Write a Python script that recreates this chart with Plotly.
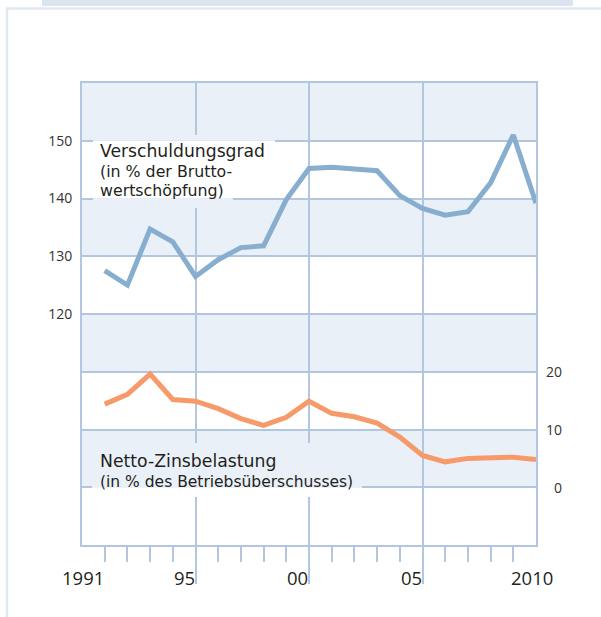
import math
import plotly.graph_objects as go

# ---------------- data ----------------
years = list(range(1991, 2011))
verschuldungsgrad = [127.5, 125.0, 134.7, 132.5, 126.5, 129.4, 131.5, 131.8, 139.8, 145.2,
                     145.4, 145.1, 144.8, 140.5, 138.3, 137.1, 137.7, 142.7, 151.0, 139.2]
zinsbelastung = [14.4, 16.1, 19.6, 15.2, 14.9, 13.6, 11.9, 10.7, 12.1, 14.9,
                 12.8, 12.2, 11.1, 8.7, 5.5, 4.4, 5.0, 5.2, 5.2, 4.8]
left_tick_vals = [80, 90, 100, 110, 120, 130, 140, 150, 160]
left_tick_text = ["", "", "", "", "120", "130", "140", "150", ""]
right_tick_vals = [0, 10, 20]
x_label_years = [1991, 1995, 2000, 2005, 2010]
x_label_text = ["1991", "95", "00", "05", "2010"]
x_major_years = [1995, 2000, 2005]
x_minor_years = list(range(1991, 2010))

# ---------------- style ----------------
W, H = 601, 617
ML, MR, MT, MB = 82, 65, 83, 72
PW, PH = W - ML - MR, H - MT - MB
XR = [1990, 2010]
YL = [80, 160]
YR = [-10, 70]
GRID = "#b3c6df"
SHADE = "#eaf0f8"
BLUE = "#88aecf"
ORANGE = "#f79a6a"
TXT = "#231f20"
FONT = "Open Sans"
LABEL_FONT = "DejaVu Sans"


def px_x(px):
    return XR[0] + (px - ML) / PW * (XR[1] - XR[0])


def px_y(py):
    return YL[1] - (py - MT) / PH * (YL[1] - YL[0])


def pp_x(px):
    return (px - ML) / PW


def pp_y(py):
    return (H - MB - py) / PH


def band_color(lo):
    return SHADE if (int(round(lo)) // 10) % 2 == 1 else "white"


shapes = []
# alternating bands
for lo in range(YL[0], YL[1], 10):
    if band_color(lo) == SHADE:
        shapes.append(dict(type="rect", xref="x domain", yref="y", x0=0, x1=1, y0=lo, y1=lo + 10,
                           fillcolor=SHADE, line=dict(width=0), layer="below"))

# masks behind the text labels (hide grid lines, keep band colours)
masks = [(93, 275, 135, 161), (93, 233, 161, 208), (92, 362, 443, 497)]
for (x0p, x1p, y0p, y1p) in masks:
    ya, yb = px_y(y1p), px_y(y0p)
    cuts = [ya] + [v for v in range(YL[0], YL[1] + 1, 10) if ya < v < yb] + [yb]
    for a, b in zip(cuts[:-1], cuts[1:]):
        lo = math.floor((a + b) / 2 / 10) * 10
        shapes.append(dict(type="rect", xref="x", yref="y", x0=px_x(x0p), x1=px_x(x1p), y0=a, y1=b,
                           fillcolor=band_color(lo), line=dict(width=0), layer="between"))

# page decoration: top band and frame
shapes.append(dict(type="rect", xref="paper", yref="paper", x0=pp_x(42), x1=pp_x(573), y0=pp_y(0), y1=pp_y(6),
                   fillcolor="#dce4ef", line=dict(width=0), layer="below"))
shapes.append(dict(type="line", xref="paper", yref="paper", x0=pp_x(6), x1=pp_x(601), y0=pp_y(8.5), y1=pp_y(8.5),
                   line=dict(color="#e2e9f3", width=2.5), layer="below"))
shapes.append(dict(type="line", xref="paper", yref="paper", x0=pp_x(7), x1=pp_x(7), y0=pp_y(8), y1=pp_y(617),
                   line=dict(color="#e2e9f3", width=2.5), layer="below"))

fig = go.Figure()
fig.add_trace(go.Scatter(x=years, y=verschuldungsgrad, mode="lines", yaxis="y",
                         line=dict(color=BLUE, width=5), cliponaxis=False, hoverinfo="skip"))
fig.add_trace(go.Scatter(x=years, y=zinsbelastung, mode="lines", yaxis="y2",
                         line=dict(color=ORANGE, width=5), cliponaxis=False, hoverinfo="skip"))

annotations = []
for yv, txt in zip(x_label_years, x_label_text):
    anchor = "center" if yv == 2010 else "right"
    shift = -4 if yv == 2010 else 1
    annotations.append(dict(x=yv, y=pp_y(577), xref="x", yref="paper", text=txt, showarrow=False,
                            xanchor=anchor, yanchor="middle", xshift=shift,
                            font=dict(size=18.5, color=TXT, family=FONT)))
for v in right_tick_vals:
    annotations.append(dict(x=pp_x(564), y=v, xref="paper", yref="y2", text=str(v), showarrow=False,
                            xanchor="right", yanchor="middle", font=dict(size=14, color="#333333", family=FONT)))

label_blocks = [
    ('<span style="font-size:17.2px">Verschuldungsgrad</span><br>'
     '<span style="font-size:15.8px">(in % der Brutto-</span><br>'
     '<span style="font-size:15.8px">wertschöpfung)</span>', 170.5, 15.1),
    ('<span style="font-size:17.3px">Netto-Zinsbelastung</span><br>'
     '<span style="font-size:15.5px">(in % des Betriebsüberschusses)</span>', 470.5, 15.0),
]
for txt, ypx, size in label_blocks:
    annotations.append(dict(x=pp_x(98), y=pp_y(ypx), xref="paper", yref="paper", text=txt, showarrow=False,
                            xanchor="left", yanchor="middle", align="left",
                            font=dict(size=size, color=TXT, family=LABEL_FONT)))

fig.update_layout(
    width=W, height=H,
    margin=dict(l=ML, r=MR, t=MT, b=MB, autoexpand=False),
    paper_bgcolor="white", plot_bgcolor="white",
    showlegend=False,
    font=dict(family=FONT, color=TXT),
    shapes=shapes,
    annotations=annotations,
    xaxis=dict(range=XR, tickvals=x_major_years, showticklabels=False,
               showgrid=True, gridcolor=GRID, gridwidth=2, zeroline=False,
               showline=True, linecolor=GRID, linewidth=2, mirror=True,
               ticks="outside", ticklen=37, tickwidth=2, tickcolor=GRID,
               minor=dict(tickvals=x_minor_years, ticks="outside", ticklen=15, tickwidth=2,
                          tickcolor=GRID, showgrid=False),
               fixedrange=True),
    yaxis=dict(range=YL, tickvals=left_tick_vals, ticktext=left_tick_text,
               showgrid=True, gridcolor=GRID, gridwidth=2, zeroline=False,
               showline=True, linecolor=GRID, linewidth=2, mirror=True,
               ticks="", ticklabelstandoff=5,
               tickfont=dict(size=14, color="#333333", family=FONT), fixedrange=True),
    yaxis2=dict(range=YR, overlaying="y", side="right", showgrid=False, zeroline=False,
                showticklabels=False, ticks="", showline=False, fixedrange=True),
)

fig.write_html("out.html", config={"displayModeBar": False},
               post_script="document.body.style.margin='0';document.body.style.overflow='hidden';")
